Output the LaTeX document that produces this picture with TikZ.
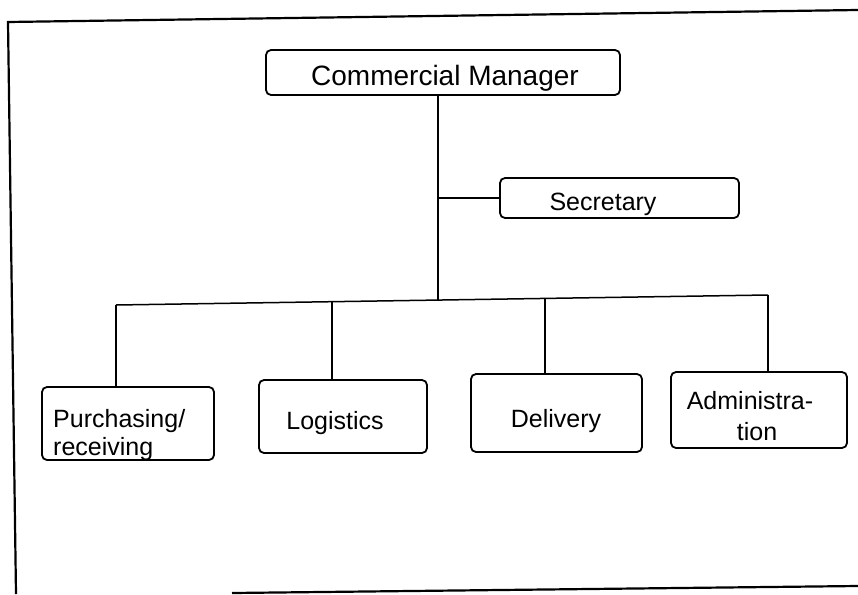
\documentclass[tikz,border=0pt]{standalone}
\usepackage{fontspec}
\setmainfont{Liberation Sans}
\begin{document}
\begin{tikzpicture}[x=1pt,y=-1pt,
  box/.style={draw, line width=1.8pt, rounded corners=5pt, inner sep=0pt},
  wire/.style={line width=1.5pt},
  frameline/.style={line width=2.2pt},
  txt/.style={inner sep=0pt, anchor=base, font=\fontsize{25}{29}\selectfont},
  bigtxt/.style={inner sep=0pt, anchor=base, font=\fontsize{28}{32}\selectfont}]
\useasboundingbox (0,0) rectangle (858,594);

% outer frame (open at the right and lower left)
\draw[frameline] (858,10) -- (8,22) -- (16,594);
\draw[frameline] (232,593) -- (858,586);

% boxes
\node[box, minimum width=354pt, minimum height=45pt] (cm)  at (443,72.5) {};
\node[box, minimum width=239pt, minimum height=40pt] (sec) at (619.5,198) {};
\node[box, minimum width=172pt, minimum height=73pt] (pur) at (128,423.5) {};
\node[box, minimum width=168pt, minimum height=73pt] (log) at (343,416.5) {};
\node[box, minimum width=171pt, minimum height=78pt] (del) at (556.5,413) {};
\node[box, minimum width=176pt, minimum height=76pt] (adm) at (759,410) {};

% labels
\node[bigtxt] (cmt)  at (445,85)  {Commercial Manager};
\node[txt]    (sect) at (603,210) {Secretary};
\node[txt, anchor=base west] (purt1) at (53,427) {Purchasing/};
\node[txt, anchor=base west] (purt2) at (53,455) {receiving};
\node[txt]    (logt) at (335,429) {Logistics};
\node[txt]    (delt) at (556,427) {Delivery};
\node[txt]    (admt1) at (750,409) {Administra-};
\node[txt]    (admt2) at (757,440) {tion};

% horizontal bus points
\coordinate (b1) at (116,305);
\coordinate (b2) at (332,301.7);
\coordinate (bm) at (438,300.3);
\coordinate (b3) at (545,298.4);
\coordinate (b4) at (768,295);

% connectors
\draw[wire] (bm |- cm.south) -- (bm);
\draw[wire] (bm |- sec.west) -- (sec.west);
\draw[wire] (b1) -- (b4);
\draw[wire] (b1) -- (b1 |- pur.north);
\draw[wire] (b2) -- (b2 |- log.north);
\draw[wire] (b3) -- (b3 |- del.north);
\draw[wire] (b4) -- (b4 |- adm.north);
\end{tikzpicture}
\end{document}
